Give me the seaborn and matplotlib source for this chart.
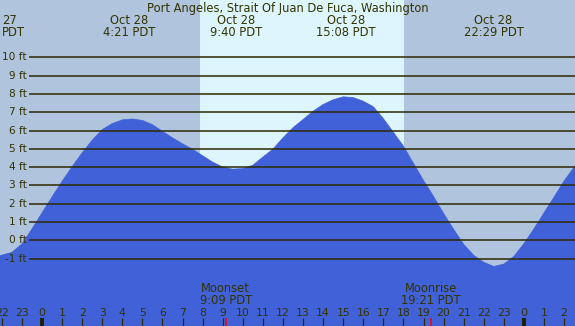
import matplotlib
matplotlib.use("Agg")
import matplotlib.pyplot as plt
from matplotlib.transforms import blended_transform_factory
import pandas as pd
import seaborn as sns

# ---------------- data ----------------
title = "Port Angeles, Strait Of Juan De Fuca, Washington"
hours = [-2.1, -1.5, -1.0, -0.5, 0.0, 0.5, 1.0, 1.5, 2.0, 2.5, 3.0, 3.5, 4.0, 4.5,
         5.0, 5.5, 6.0, 6.5, 7.0, 7.5, 8.0, 8.5, 9.0, 9.5, 10.0, 10.5, 11.0, 11.5,
         12.0, 12.5, 13.0, 13.5, 14.0, 14.5, 15.0, 15.5, 16.0, 16.5, 17.0, 17.5,
         18.0, 18.5, 19.0, 19.5, 20.0, 20.5, 21.0, 21.5, 22.0, 22.5, 23.0, 23.5,
         24.0, 24.5, 25.0, 25.5, 26.0, 26.6]
heights = [-0.84, -0.66, -0.2, 0.62, 1.5, 2.37, 3.22, 4.02, 4.78, 5.47, 6.05, 6.38, 6.58, 6.63,
           6.55, 6.32, 5.95, 5.6, 5.27, 4.97, 4.62, 4.27, 4.0, 3.89, 3.92, 4.1, 4.55, 4.98,
           5.6, 6.15, 6.6, 7.05, 7.42, 7.68, 7.84, 7.8, 7.6, 7.3, 6.65, 5.9,
           5.15, 4.2, 3.27, 2.4, 1.47, 0.6, -0.22, -0.82, -1.2, -1.43, -1.3, -0.88,
           -0.18, 0.63, 1.5, 2.36, 3.24, 4.15]
extreme_hours = [4.35, 9.667, 15.133, 22.483]
extreme_dates = ["Oct 28", "Oct 28", "Oct 28", "Oct 28"]
extreme_times = ["4:21 PDT", "9:40 PDT", "15:08 PDT", "22:29 PDT"]
left_label = "27\nPDT"
ft_levels = [-1, 0, 1, 2, 3, 4, 5, 6, 7, 8, 9, 10]
tick_hours = list(range(-2, 27))
tick_labels = ["22", "23"] + [str(h) for h in range(24)] + ["0", "1", "2"]
midnights = [0, 24]
moon_hours = [9.15, 19.35]
moon_labels = ["Moonset\n9:09 PDT", "Moonrise\n19:21 PDT"]
sunrise, sunset = 7.87, 18.03

# ---------------- style ----------------
NIGHT = "#b0c4de"
DAY = "#ddf6fe"
WATER = "#4161d8"
GRID = "#2b2a00"
TXT = "#333300"

sns.set_theme(style="white")
plt.rcParams["font.family"] = ["DejaVu Sans"]

W, H = 575, 326
PX_PER_H = 20.08
X_ZERO = 42.0
fig = plt.figure(figsize=(W / 100, H / 100), dpi=100)
ax = fig.add_axes([0, 0, 1, 1])
x0 = -X_ZERO / PX_PER_H
x1 = (W - X_ZERO) / PX_PER_H
ylo, yhi = (240.3 - H) / 18.3, 240.3 / 18.3
fig.patch.set_facecolor(NIGHT)
ax.add_patch(plt.Rectangle((x0, -10), x1 - x0, 30, color=NIGHT, zorder=0))
ax.axvspan(sunrise, sunset, color=DAY, lw=0, zorder=0.5)

df = pd.DataFrame({"hour": hours, "height": heights})
ax.fill_between(df["hour"], df["height"], -10, color=WATER, lw=0, zorder=1)
sns.lineplot(data=df, x="hour", y="height", color=WATER, lw=0.5, ax=ax, zorder=1.1)
ax.set_xlim(x0, x1)
ax.set_ylim(ylo, yhi)
ax.axis("off")

def fy(ypx):
    return 1 - ypx / H

trans = blended_transform_factory(ax.transData, ax.transAxes)

# gridlines and ft labels
xl = (29 - X_ZERO) / PX_PER_H
xlab = (27 - X_ZERO) / PX_PER_H
for v in ft_levels:
    ax.plot([xl, x1], [v, v], color=GRID, lw=1.1, zorder=2, solid_capstyle="butt")
    ax.text(xlab, v, f"{v} ft", ha="right", va="center", fontsize=7.6, color=TXT, zorder=3)

# title and extremes
fs = 8.3
ax.text(0.5, fy(12), title, transform=ax.transAxes, ha="center", va="baseline",
        fontsize=fs, color=TXT)
for h, d, t in zip(extreme_hours, extreme_dates, extreme_times):
    ax.text(h, fy(24), d, transform=trans, ha="center", va="baseline", fontsize=fs, color=TXT)
    ax.text(h, fy(36.5), t, transform=trans, ha="center", va="baseline", fontsize=fs, color=TXT)
l1, l2 = left_label.split("\n")
ax.text(2 / W, fy(24), l1, transform=ax.transAxes, ha="left", va="baseline", fontsize=fs, color=TXT)
ax.text(2 / W, fy(36.5), l2, transform=ax.transAxes, ha="left", va="baseline", fontsize=fs, color=TXT)

# bottom hour ticks
for h, lab in zip(tick_hours, tick_labels):
    ax.text(h, fy(316), lab, transform=trans, ha="center", va="baseline", fontsize=7.8,
            color=TXT, zorder=3)
    if h in midnights:
        ax.plot([h, h], [fy(318), 0], transform=trans, color="#1f1f00", lw=2.8,
                solid_capstyle="butt", zorder=3)
    else:
        ax.plot([h, h], [fy(318), 0], transform=trans, color=GRID, lw=0.9,
                solid_capstyle="butt", zorder=3)

# moon events
for h, lab in zip(moon_hours, moon_labels):
    a, b = lab.split("\n")
    ax.text(h, fy(292), a, transform=trans, ha="center", va="baseline", fontsize=fs, color=TXT)
    ax.text(h, fy(304), b, transform=trans, ha="center", va="baseline", fontsize=fs, color=TXT)
    ax.plot([h, h], [fy(318), 0], transform=trans, color="red", lw=1.1,
            solid_capstyle="butt", zorder=3)

fig.savefig("out.png", dpi=100, facecolor=NIGHT)
